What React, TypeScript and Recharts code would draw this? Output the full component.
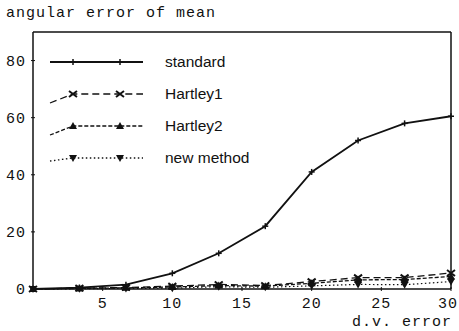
import { LineChart, Line, XAxis, YAxis, ReferenceLine } from 'recharts';

const errors = [0, 3.33, 6.67, 10, 13.33, 16.67, 20, 23.33, 26.67, 30];
const standard = [0, 0.5, 1.5, 5.5, 12.5, 22, 41, 52, 58, 60.5];
const hartley1 = [0, 0.3, 0.5, 1, 1.6, 1.2, 2.6, 4, 4, 5.6];
const hartley2 = [0, 0.2, 0.4, 0.7, 1.2, 1, 2, 3.2, 3.3, 4.4];
const newMethod = [0, 0.1, 0.2, 0.3, 0.8, 0.6, 1.1, 1.6, 1.5, 2.6];

const xTicks = [5, 10, 15, 20, 25, 30];
const yTicks = [0, 20, 40, 60, 80];

const data = errors.map((e, i) => ({
  e,
  standard: standard[i],
  hartley1: hartley1[i],
  hartley2: hartley2[i],
  newMethod: newMethod[i],
}));

const INK = '#111';
const mono = '"Liberation Mono", "DejaVu Sans Mono", monospace';
const sans = '"Liberation Sans", Arial, sans-serif';

type Kind = 'plus' | 'cross' | 'up' | 'down';

function marker(kind: Kind, x: number, y: number, key?: string | number) {
  if (kind === 'plus') {
    return (
      <g key={key}>
        <line x1={x} y1={y - 3} x2={x} y2={y + 3} stroke={INK} strokeWidth={1.5} />
        <line x1={x - 3} y1={y} x2={x + 3} y2={y} stroke={INK} strokeWidth={1.5} />
      </g>
    );
  }
  if (kind === 'cross') {
    return (
      <path
        key={key}
        d={`M${x - 4},${y - 3} L${x + 4},${y + 3} M${x - 4},${y + 3} L${x + 4},${y - 3}`}
        stroke={INK}
        strokeWidth={2}
        fill="none"
      />
    );
  }
  if (kind === 'up') {
    return <path key={key} d={`M${x},${y - 4} L${x + 4},${y + 3} L${x - 4},${y + 3} Z`} fill={INK} />;
  }
  return <path key={key} d={`M${x},${y + 4} L${x + 4},${y - 3} L${x - 4},${y - 3} Z`} fill={INK} />;
}

const dotOf = (kind: Kind) => (p: any) => marker(kind, p.cx, p.cy, `${kind}-${p.index}`);

const legendRows: { name: string; kind: Kind; dash?: string; rise: number }[] = [
  { name: 'standard', kind: 'plus', rise: 0 },
  { name: 'Hartley1', kind: 'cross', dash: '7 4', rise: 9 },
  { name: 'Hartley2', kind: 'up', dash: '4 2', rise: 9 },
  { name: 'new method', kind: 'down', dash: '1.5 2.5', rise: 3 },
];

function LegendBox() {
  return (
    <svg width={240} height={130} style={{ position: 'absolute', left: 48, top: 50 }}>
      {legendRows.map((r, i) => {
        const y = 12 + i * 32;
        return (
          <g key={r.name}>
            <path
              d={`M2,${y + r.rise} L25,${y} L95,${y}`}
              stroke={INK}
              strokeWidth={r.kind === 'plus' ? 1.8 : 1.3}
              strokeDasharray={r.dash}
              fill="none"
            />
            {marker(r.kind, 25, y)}
            {marker(r.kind, 72, y)}
            <text x={117} y={y + 5} fontFamily={sans} fontSize={15.5} fill={INK}>
              {r.name}
            </text>
          </g>
        );
      })}
    </svg>
  );
}

function YTick(props: any) {
  const { x, y, payload } = props;
  return (
    <g>
      <line x1={x + 5} y1={y} x2={x + 9} y2={y} stroke={INK} strokeWidth={1} />
      <text x={x} y={y + 5} textAnchor="end" fontFamily={mono} fontSize={15} letterSpacing={1} fill={INK}>
        {payload.value}
      </text>
    </g>
  );
}

function XTick(props: any) {
  const { x, y, payload } = props;
  const shift = payload.value === 30 ? -3 : 0;
  return (
    <g>
      <line x1={x} y1={y - 5} x2={x} y2={y - 9} stroke={INK} strokeWidth={1} />
      <text x={x + shift} y={y + 12} textAnchor="middle" fontFamily={mono} fontSize={15} letterSpacing={1} fill={INK}>
        {payload.value}
      </text>
    </g>
  );
}

export default function App() {
  return (
    <div style={{ position: 'absolute', left: 0, top: 0, width: 459, height: 331, background: '#fff' }}>
      <div
        style={{
          position: 'absolute',
          left: 6,
          top: 5,
          fontFamily: mono,
          fontSize: 15,
          letterSpacing: 1,
          color: INK,
        }}
      >
        angular error of mean
      </div>
      <LineChart width={459} height={331} data={data} margin={{ top: 32, right: 8, bottom: 2, left: 8 }}>
        <XAxis
          dataKey="e"
          type="number"
          domain={[0, 30]}
          ticks={xTicks}
          height={40}
          tickSize={5}
          tickLine={false}
          tick={<XTick />}
          axisLine={{ stroke: INK, strokeWidth: 1.5 }}
          label={{
            value: 'd.v. error',
            position: 'insideBottomRight',
            offset: 0,
            dx: 1,
            dy: -3,
            style: { fontFamily: mono, fontSize: 15, letterSpacing: 1, fill: INK },
          }}
        />
        <YAxis
          type="number"
          domain={[0, 90]}
          ticks={yTicks}
          width={25}
          tickSize={5}
          tickLine={false}
          tick={<YTick />}
          axisLine={{ stroke: INK, strokeWidth: 1.5 }}
        />
        <ReferenceLine x={30} stroke={INK} strokeWidth={1.5} />
        <ReferenceLine y={90} stroke={INK} strokeWidth={1.5} />
        <Line
          dataKey="standard"
          type="linear"
          stroke={INK}
          strokeWidth={1.8}
          dot={dotOf('plus')}
          isAnimationActive={false}
        />
        <Line
          dataKey="hartley1"
          type="linear"
          stroke={INK}
          strokeWidth={1.3}
          strokeDasharray="7 4"
          dot={dotOf('cross')}
          isAnimationActive={false}
        />
        <Line
          dataKey="hartley2"
          type="linear"
          stroke={INK}
          strokeWidth={1.3}
          strokeDasharray="4 2"
          dot={dotOf('up')}
          isAnimationActive={false}
        />
        <Line
          dataKey="newMethod"
          type="linear"
          stroke={INK}
          strokeWidth={1.2}
          strokeDasharray="1.5 2.5"
          dot={dotOf('down')}
          isAnimationActive={false}
        />
      </LineChart>
      <LegendBox />
    </div>
  );
}
